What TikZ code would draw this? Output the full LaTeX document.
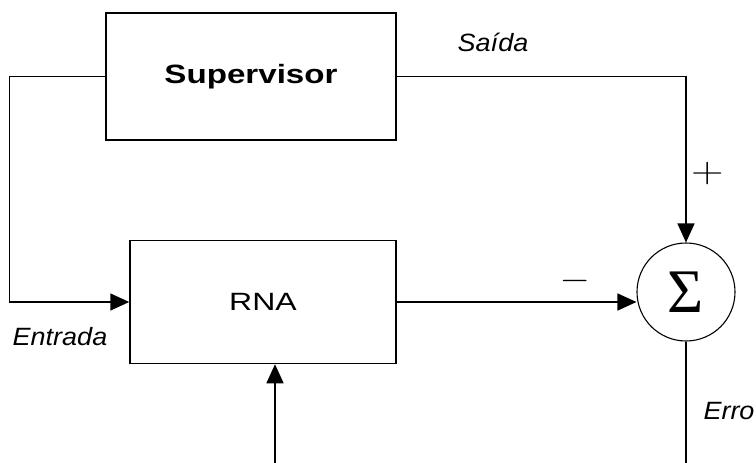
\documentclass[tikz,border=0pt]{standalone}
\usepackage{fontspec}
\usepackage{graphicx}
\setmainfont{Liberation Sans}
\newfontfamily\sigmafont{Liberation Serif}
\newfontfamily\signfont{Latin Modern Roman}
\usetikzlibrary{arrows.meta}
\newcommand{\wide}[2]{\scalebox{#1}[1]{#2}}
\tikzset{
  blockbox/.style={draw, line width=1.5pt, inner sep=0pt},
  conn/.style={line width=1.5pt},
  arr/.style={conn, -{Triangle[length=19pt,width=17pt]}},
  lbl/.style={inner sep=0pt, font=\fontsize{25}{25}\selectfont\itshape},
  sign/.style={inner sep=0pt}
}
\begin{document}
\begin{tikzpicture}[x=1pt,y=-1pt]
\useasboundingbox (0,0) rectangle (756,463);
\node[blockbox, minimum width=290pt, minimum height=127pt] (sup) at (251,76.5)
  {\fontsize{26.5}{26.5}\selectfont\bfseries\wide{1.25}{Supervisor}};
\node[blockbox, minimum width=266pt, minimum height=123pt] (rna) at (263,302)
  {\fontsize{25}{25}\selectfont\wide{1.28}{RNA}};
\node[draw, circle, line width=1.1pt, minimum size=98pt, inner sep=0pt] (sum) at (686,292)
  {\sigmafont\fontsize{62}{62}\selectfont Σ};
\coordinate (inStart) at (275,463);
\coordinate (errEnd) at (686,463);
\draw[arr] (sup.west) -- ++(-96,0) |- (rna.west);
\draw[arr] (sup.east) -| (sum.north);
\draw[arr] (rna.east) -- (sum.west |- rna.east);
\draw[conn] (sum.south) -- (errEnd);
\draw[arr] (inStart) -- (inStart |- rna.south);
\node[lbl] (saida) at (493,42) {\wide{1.08}{Saída}};
\node[lbl] (entrada) at (60,337) {\wide{1.08}{Entrada}};
\node[lbl] (erro) at (729,411) {\wide{1.08}{Erro}};
\node[sign] (plus) at (708,174) {\signfont\fontsize{45}{45}\selectfont\scalebox{1}[0.8]{+}};
\node[sign] (minus) at (575,285) {\signfont\fontsize{38}{38}\selectfont −};
\end{tikzpicture}
\end{document}
